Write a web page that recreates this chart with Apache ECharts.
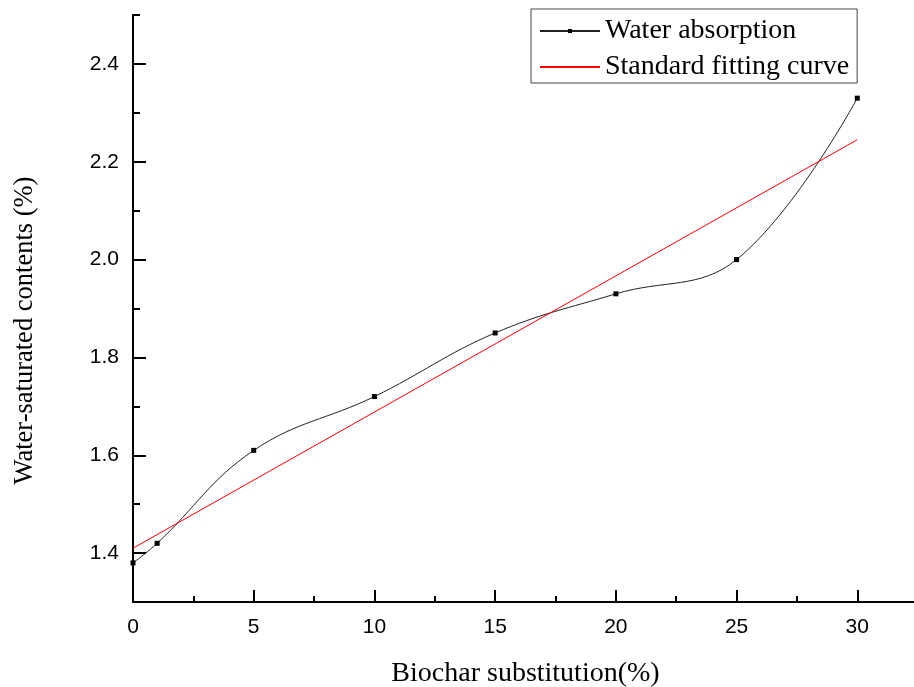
<!DOCTYPE html>
<html>
<head>
<meta charset="utf-8">
<script src="https://cdn.jsdelivr.net/npm/echarts@6/dist/echarts.min.js"></script>
<style>
  html, body { margin: 0; padding: 0; background: #fff; }
  #chart { width: 914px; height: 687px; }
</style>
</head>
<body>
<div id="chart"></div>
<script>
// 数据
var substitution = [0, 1, 5, 10, 15, 20, 25, 30];
var absorption = [1.38, 1.42, 1.61, 1.72, 1.85, 1.93, 2.00, 2.33];
var fitX = [0, 30];
var fitY = [1.41, 2.245];
var yMajorTicks = [1.4, 1.6, 1.8, 2.0, 2.2, 2.4];

var serif = "'Times New Roman', 'Liberation Serif', serif";
var sans = "Arial, 'Liberation Sans', sans-serif";

function pairs(xs, ys) {
    return xs.map(function (x, i) { return [x, ys[i]]; });
}

var myChart = echarts.init(document.getElementById('chart'));
myChart.setOption({
    backgroundColor: '#fff',
    animation: false,
    grid: {left: 133, right: -64, top: 15, bottom: 85, outerBoundsMode: 'none', containLabel: false},
    legend: {
        orient: 'vertical',
        left: 531,
        top: 9,
        padding: [8, 8, 2, 8],
        itemGap: 8,
        itemWidth: 60,
        itemHeight: 5,
        borderColor: '#444',
        borderWidth: 1,
        textStyle: {fontFamily: serif, fontSize: 28, color: '#000'},
        data: [
            'Water absorption',
            {name: 'Standard fitting curve', itemStyle: {opacity: 0}}
        ]
    },
    xAxis: {
        type: 'value',
        min: 0,
        max: 35,
        interval: 5,
        name: 'Biochar substitution(%)',
        nameLocation: 'middle',
        nameGap: 58,
        nameTextStyle: {fontFamily: serif, fontSize: 28, color: '#000', padding: [0, 60, 0, 0]},
        axisLine: {lineStyle: {color: '#000', width: 2}},
        axisTick: {inside: true, length: 12, lineStyle: {color: '#000', width: 2}},
        minorTick: {show: true, splitNumber: 2, length: 6, lineStyle: {color: '#000', width: 2}},
        axisLabel: {margin: 15, fontFamily: sans, fontSize: 21, color: '#000'},
        splitLine: {show: false}
    },
    yAxis: [{
        type: 'value',
        position: 'left',
        min: 1.3,
        max: 2.5,
        interval: 0.1,
        name: 'Water-saturated contents (%)',
        nameLocation: 'middle',
        nameGap: 94,
        nameTextStyle: {fontFamily: serif, fontSize: 26.5, color: '#000', padding: [0, 44, 0, 0]},
        axisLine: {show: true, lineStyle: {color: '#000', width: 2}},
        axisTick: {inside: true, length: 7, lineStyle: {color: '#000', width: 2}},
        axisLabel: {show: false},
        splitLine: {show: false}
    }, {
        type: 'value',
        position: 'left',
        min: 1.3,
        max: 2.5,
        interval: 0.1,
        axisLine: {show: false},
        axisTick: {inside: true, length: 13, customValues: yMajorTicks, lineStyle: {color: '#000', width: 2}},
        axisLabel: {
            margin: 14, fontFamily: sans, fontSize: 21, color: '#000',
            customValues: yMajorTicks,
            formatter: function (v) { return v.toFixed(1); }
        },
        splitLine: {show: false}
    }],
    series: [{
        name: 'Water absorption',
        type: 'line',
        smooth: 0.4,
        data: pairs(substitution, absorption),
        symbol: 'rect',
        symbolSize: 5,
        showAllSymbol: true,
        itemStyle: {color: '#000'},
        lineStyle: {color: '#222', width: 1}
    }, {
        name: 'Standard fitting curve',
        type: 'line',
        data: pairs(fitX, fitY),
        symbol: 'none',
        itemStyle: {color: '#ff0000'},
        lineStyle: {color: '#ff0000', width: 1}
    }]
});
</script>
</body>
</html>
